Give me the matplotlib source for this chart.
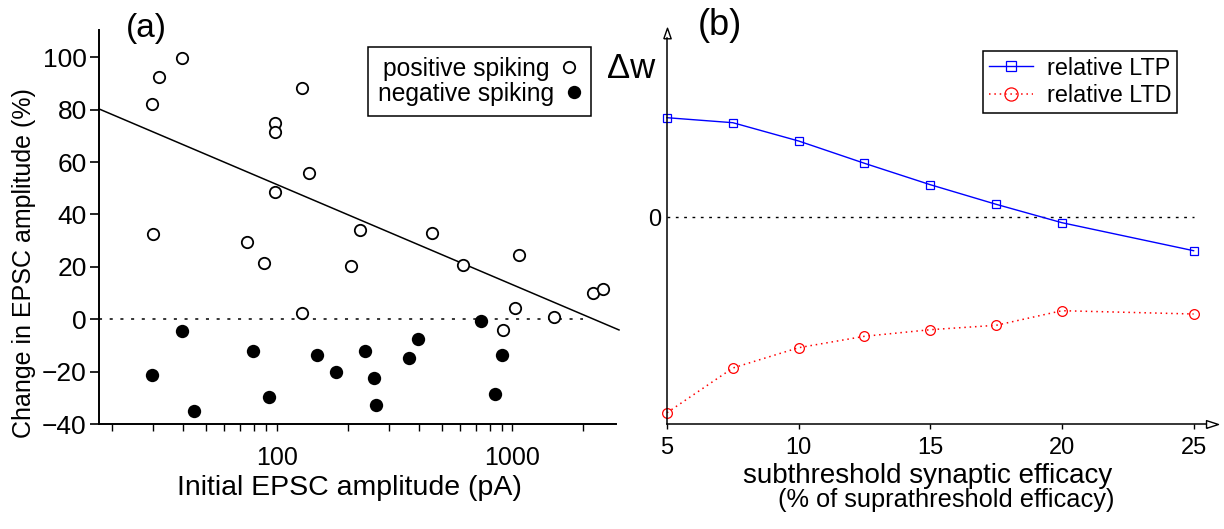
import numpy as np
import matplotlib.pyplot as plt
from matplotlib.lines import Line2D
from matplotlib.ticker import LogLocator, NullFormatter

plt.rcParams['font.family'] = ['Liberation Sans', 'DejaVu Sans']

# (a) initial EPSC amplitude (pA) vs change in EPSC amplitude (%)
pos_amp = [39.5, 31.7, 29.6, 30.0, 127.7, 98.3, 98.3, 137.5, 98.3, 75.0, 88.6,
           225.6, 206.0, 128.0, 457.0, 615.0, 1066.0, 1027.0, 1496.0, 908.0, 2203.0, 2415.0]
pos_change = [99.8, 92.6, 82.3, 32.5, 88.4, 75.0, 71.4, 55.8, 48.5, 29.4, 21.3,
              34.1, 20.3, 2.5, 33.0, 20.7, 24.5, 4.3, 1.0, -4.1, 10.1, 11.6]
neg_amp = [29.7, 39.5, 44.7, 79.1, 93.0, 148.2, 179.0, 237.6, 258.5, 264.3,
           365.0, 397.0, 735.0, 905.0, 840.5]
neg_change = [-21.3, -4.4, -35.1, -12.3, -29.6, -13.7, -20.3, -12.3, -22.5, -32.9,
              -14.9, -7.7, -0.6, -13.8, -28.7]
fit_amp = [17.6, 2830.0]
fit_change = [80.3, -4.1]

# (b) relative LTP / LTD vs subthreshold efficacy
efficacy = [5, 7.5, 10, 12.5, 15, 17.5, 20, 25]
ltp = [0.996, 0.946, 0.763, 0.540, 0.326, 0.130, -0.054, -0.334]
ltd = [-1.954, -1.507, -1.304, -1.190, -1.124, -1.080, -0.934, -0.967]

W, H = 1224, 529


def fx(px):
    return px / W


def fy(py):
    return 1 - py / H


fig = plt.figure(figsize=(W / 100, H / 100), dpi=100)

# ---------------- panel (a) ----------------
ax1 = fig.add_axes([fx(99), fy(424), fx(616) - fx(99), fy(30) - fy(424)])
ax1.plot(pos_amp, pos_change, 'o', ms=8.2, mfc='white', mec='black', mew=1.3, zorder=3)
ax1.plot(neg_amp, neg_change, 'o', ms=9.6, mfc='black', mec='black', mew=0, zorder=3)
ax1.plot(fit_amp, fit_change, color='black', lw=1.1, clip_on=False, zorder=2)
ax1.hlines(0, 17.63, 2000, colors='black', lw=1.1, linestyles=(0, (2, 5)), zorder=1)

ax1.set_xscale('log')
ax1.set_xlim(17.63, 2748)
ax1.set_ylim(-40, 110.4)
ax1.set_xticks([100, 1000])
ax1.set_xticklabels(['100', '1000'])
ax1.xaxis.set_minor_locator(LogLocator(base=10, subs=np.arange(2, 10)))
ax1.xaxis.set_minor_formatter(NullFormatter())
ax1.set_yticks(range(-40, 101, 20))
ax1.tick_params(axis='y', direction='out', length=6.5, width=1.2, pad=2.4, labelsize=19)
ax1.tick_params(axis='x', which='both', direction='out', length=5, width=1.0, pad=11, labelsize=18)
for s in ['top', 'right']:
    ax1.spines[s].set_visible(False)
for s in ['left', 'bottom']:
    ax1.spines[s].set_linewidth(1.4)

handles_a = [
    Line2D([], [], ls='none', marker='o', ms=8.2, mfc='white', mec='black', mew=1.3),
    Line2D([], [], ls='none', marker='o', ms=9.6, mfc='black', mec='black', mew=0),
]
leg_a = ax1.legend(handles_a, ['positive spiking', 'negative spiking'],
                   loc='upper right', bbox_to_anchor=(fx(591), fy(47)),
                   bbox_transform=fig.transFigure, borderaxespad=0,
                   markerfirst=False, fontsize=17.7, handlelength=0.6,
                   handletextpad=0.5, labelspacing=0.05, borderpad=0.4,
                   fancybox=False, framealpha=1, edgecolor='black')
leg_a.get_frame().set_linewidth(1.1)
# rows are centred in the reference box rather than right-aligned
leg_a._legend_handle_box.get_children()[0].align = 'center'

fig.text(fx(146.5), fy(28), '(a)', fontsize=24, ha='center', va='center')
fig.text(fx(24), fy(263), 'Change in EPSC amplitude (%)', fontsize=18,
         rotation=90, ha='center', va='center')
fig.text(fx(349), fy(495), 'Initial EPSC amplitude (pA)', fontsize=20.5,
         ha='center', va='baseline')

# ---------------- panel (b) ----------------
ax2 = fig.add_axes([fx(667), fy(424.3), fx(1206) - fx(667), fy(38) - fy(424.3)])
ax2.plot(efficacy, ltp, color='#0000ff', lw=1.0, marker='s', ms=5.2,
         mfc='none', mec='#0000ff', mew=0.9, label='relative LTP', clip_on=False)
ax2.plot(efficacy, ltd, color='#ff0000', lw=1.1, ls=(0, (1, 2.5)), marker='o', ms=7,
         mfc='none', mec='#ff0000', mew=0.9, label='relative LTD', clip_on=False)
ax2.hlines(0, 5, 25, colors='black', lw=1.0, linestyles=(0, (2, 4)), zorder=1)

ax2.set_xlim(5, 5 + (1206 - 667) / 26.33)
ax2.set_ylim((217.3 - 424.3) / 100, (217.3 - 38) / 100)
ax2.set_xticks([5, 10, 15, 20, 25])
ax2.set_yticks([0])
ax2.tick_params(axis='x', direction='out', length=3.6, width=1.0, pad=5.3, labelsize=17)
ax2.tick_params(axis='y', length=0, pad=4.3, labelsize=17)
for s in ['top', 'right']:
    ax2.spines[s].set_visible(False)
for s in ['left', 'bottom']:
    ax2.spines[s].set_linewidth(1.1)

# open arrow heads at the ends of the axes
ax2.plot(1.011, 0, marker=[(-1, -0.65), (1, 0), (-1, 0.65), (-1, -0.65)], ms=8.6,
         mfc='white', mec='black', mew=1.0, transform=ax2.transAxes, clip_on=False)
ax2.plot(0, 1.013, marker=[(-0.7, -1), (0, 1), (0.7, -1), (-0.7, -1)], ms=7.6,
         mfc='white', mec='black', mew=1.0, transform=ax2.transAxes, clip_on=False)

leg_b = ax2.legend(loc='upper right', bbox_to_anchor=(fx(1177.3), fy(50.7)),
                   bbox_transform=fig.transFigure, borderaxespad=0,
                   fontsize=16.8, handlelength=1.9, handletextpad=0.6,
                   labelspacing=0.2, borderpad=0.25, markerscale=1.35,
                   fancybox=False, framealpha=1, edgecolor='black')
leg_b.get_frame().set_linewidth(1.1)

fig.text(fx(720), fy(25.5), '(b)', fontsize=26, ha='center', va='center')
fig.text(fx(631.5), fy(69), 'Δw', fontsize=25, ha='center', va='center')
fig.text(fx(927.5), fy(483.3), 'subthreshold synaptic efficacy', fontsize=20,
         ha='center', va='baseline')
fig.text(fx(946.5), fy(506.7), '(% of suprathreshold efficacy)', fontsize=18.3,
         ha='center', va='baseline')

fig.savefig('out.png', dpi=100)
